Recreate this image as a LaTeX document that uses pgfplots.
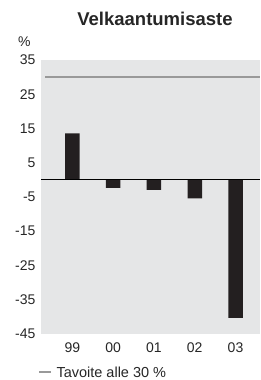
\documentclass[border=0pt]{standalone}
\usepackage{pgfplots}
\pgfplotsset{compat=1.18}
\usepackage{fontspec}
\setmainfont{Liberation Sans}
\definecolor{bg}{HTML}{E5E6E7}
\definecolor{barc}{HTML}{231F20}
\definecolor{tgt}{HTML}{999999}
\begin{document}
\begin{tikzpicture}[x=1pt,y=1pt]
\path[use as bounding box] (0,0) rectangle (260,380);
\begin{axis}[
  at={(41pt,46pt)}, anchor=south west,
  scale only axis, width=219pt, height=274pt,
  xmin=-0.77, xmax=4.6, ymin=-45, ymax=35,
  axis background/.style={fill=bg},
  axis line style={draw=none},
  major tick length=0pt,
  ytick={-45,-35,...,35},
  xtick={0,1,2,3,4},
  xticklabels={99,00,01,02,03},
  ticklabel style={font=\fontsize{14}{16}\selectfont, text=black!85},
  /pgf/number format/assume math mode=true,
  yticklabel style={xshift=-2pt},
  xticklabel style={yshift=-5pt},
  clip=false,
]
\addplot[ybar, bar width=14.5pt, bar shift=0pt, fill=barc, draw=none] coordinates {(0,13.6) (1,-2.3) (2,-2.9) (3,-5.4) (4,-40.3)};
\addplot[tgt, line width=1.8pt] coordinates {(-0.67,30) (4.6,30)};
\addplot[black, line width=0.9pt] coordinates {(-0.77,0) (4.6,0)};
\end{axis}
\node[font=\bfseries\fontsize{18.5}{20}\selectfont, text=black!85] at (155,361) {Velkaantumisaste};
\node[font=\fontsize{14}{16}\selectfont, text=black!85, anchor=east] at (34,338) {\%};
\draw[tgt, line width=1.2pt] (39,8) -- (51,8);
\node[font=\fontsize{14.5}{17}\selectfont, text=black!85, anchor=west] at (53,7.5) {Tavoite alle 30 \%};
\end{tikzpicture}
\end{document}
